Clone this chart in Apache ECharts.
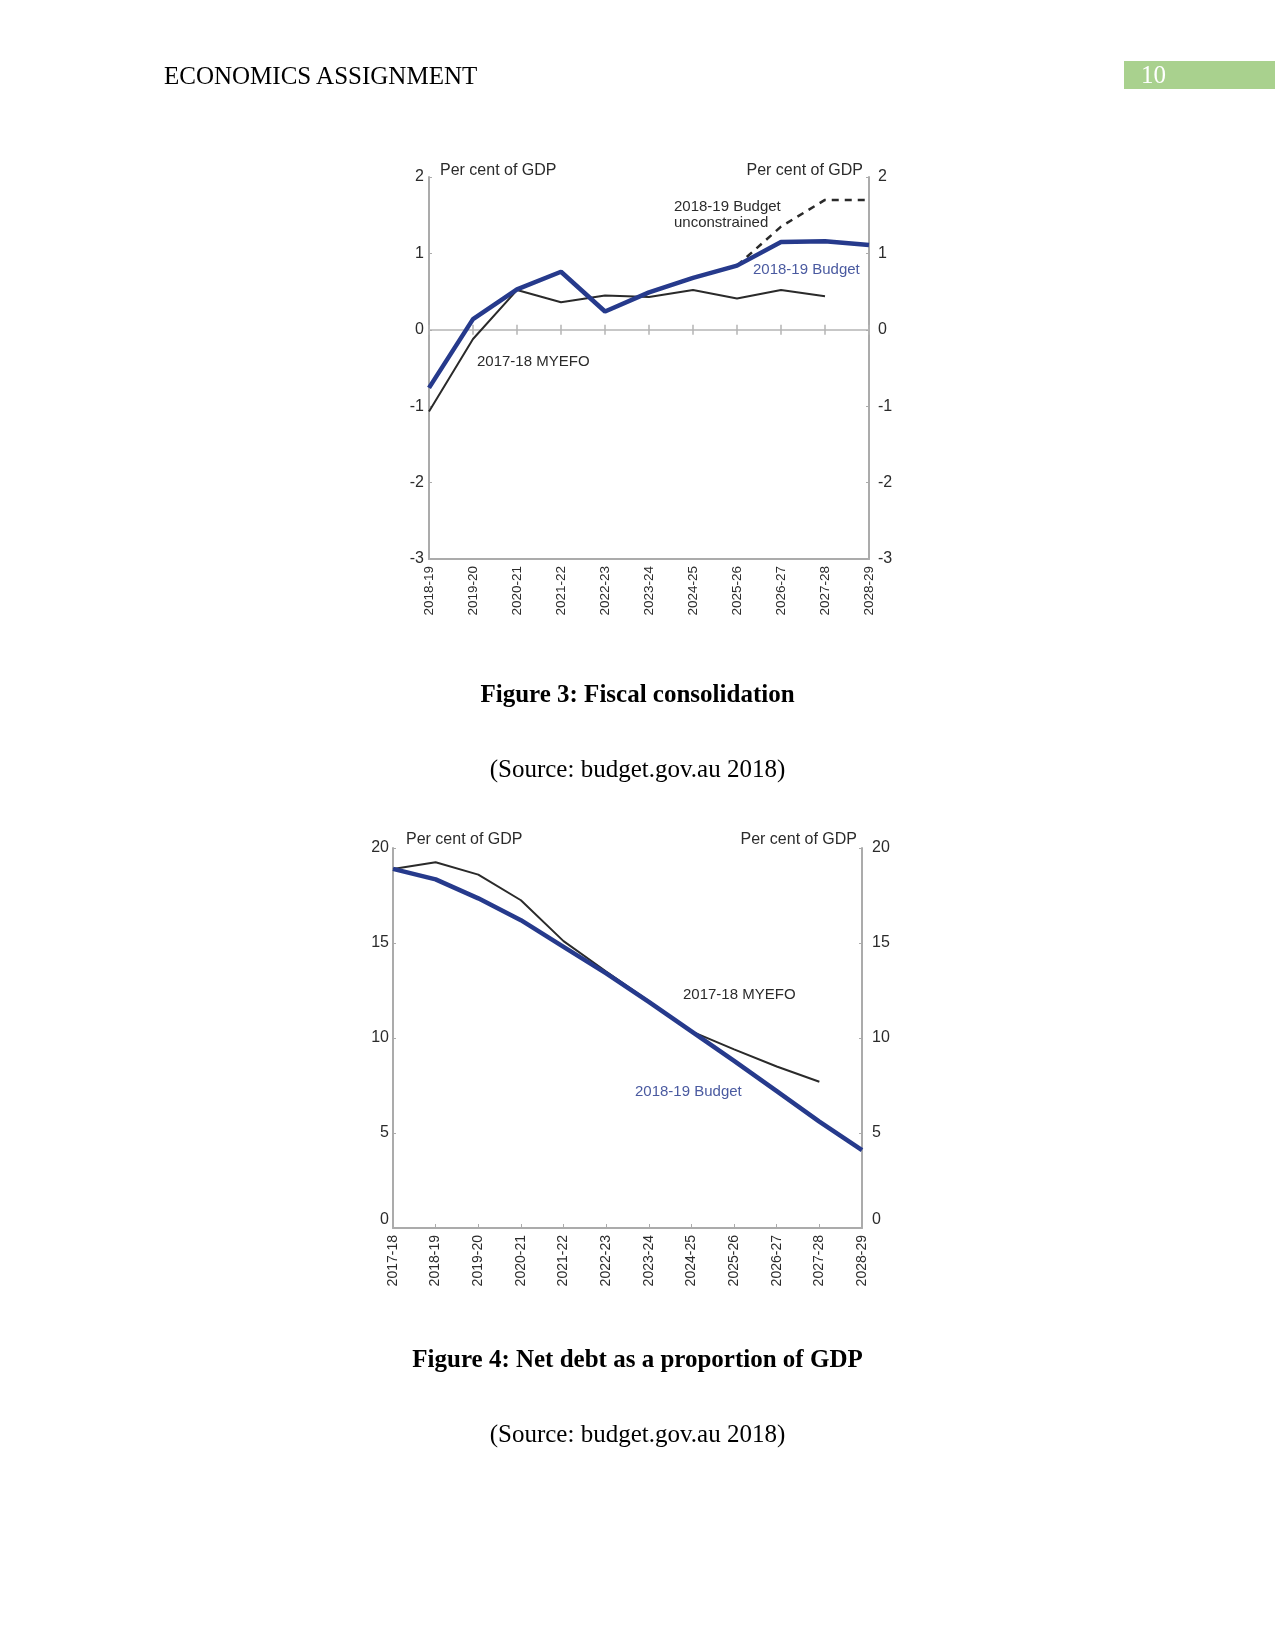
<!DOCTYPE html>
<html>
<head>
<meta charset="utf-8">
<script src="https://cdn.jsdelivr.net/npm/echarts@6/dist/echarts.min.js"></script>
<style>
  html, body { margin: 0; padding: 0; background: #fff; }
  #page { position: relative; width: 1275px; height: 1650px; overflow: hidden; }
  #chart { position: absolute; left: 0; top: 0; width: 1275px; height: 1650px; }
  .t { position: absolute; font-family: "Liberation Serif", "Times New Roman", serif; font-size: 25px; color: #000; white-space: nowrap; line-height: 30px; }
  .c { left: 0; width: 1275px; text-align: center; }
  .b { font-weight: bold; }
  #pgbox { position: absolute; left: 1124px; top: 61px; width: 151px; height: 28px; background: #a9d18e; }
  #pgnum { position: absolute; left: 1141px; top: 60px; color: #fff; }
</style>
</head>
<body>
<div id="page">
  <div id="chart"></div>
  <div class="t" style="left:164px; top:61px;">ECONOMICS ASSIGNMENT</div>
  <div id="pgbox"></div>
  <div class="t" id="pgnum">10</div>
  <div class="t c b" style="top:679px;">Figure 3: Fiscal consolidation</div>
  <div class="t c" style="top:754px;">(Source: budget.gov.au 2018)</div>
  <div class="t c b" style="top:1344px;">Figure 4: Net debt as a proportion of GDP</div>
  <div class="t c" style="top:1419px;">(Source: budget.gov.au 2018)</div>
</div>
<script>
// ---- Figure 3: Fiscal consolidation (per cent of GDP) ----
const years1 = ['2018-19','2019-20','2020-21','2021-22','2022-23','2023-24','2024-25','2025-26','2026-27','2027-28','2028-29'];
const budget1 = [-0.76, 0.14, 0.53, 0.76, 0.24, 0.49, 0.68, 0.84, 1.15, 1.16, 1.11];
const myefo1 = [-1.07, -0.12, 0.52, 0.36, 0.45, 0.43, 0.52, 0.41, 0.52, 0.44, null];
const unconstrained1 = [null, null, null, null, null, null, null, 0.84, 1.35, 1.70, 1.70];
const yMin1 = -3, yMax1 = 2, yStep1 = 1;

// ---- Figure 4: Net debt (per cent of GDP) ----
const years2 = ['2017-18','2018-19','2019-20','2020-21','2021-22','2022-23','2023-24','2024-25','2025-26','2026-27','2027-28','2028-29'];
const budget2 = [18.9, 18.35, 17.35, 16.2, 14.8, 13.4, 11.9, 10.35, 8.8, 7.2, 5.6, 4.1];
const myefo2 = [18.9, 19.25, 18.6, 17.25, 15.1, 13.5, 11.95, 10.35, 9.4, 8.5, 7.7, null];
const yMin2 = 0, yMax2 = 20, yStep2 = 5;

const unitLabel = 'Per cent of GDP';
const lblBudget = '2018-19 Budget';
const lblUnconstrained = '2018-19 Budget\nunconstrained';
const lblMyefo = '2017-18 MYEFO';

const SANS = '"Liberation Sans", Arial, sans-serif';
const AXIS_GREY = '#ababab';
const TXT = '#2b2b2b';
const BLUE = '#263a8c';
const BLUE_TXT = '#4a5aa0';

function yAx(grid, pos, min, max, step, show, extra) {
  return Object.assign({
    type: 'value', gridIndex: grid, position: pos, min: min, max: max, interval: step,
    show: show,
    axisLine: { show: true, lineStyle: { color: AXIS_GREY, width: 2 } },
    axisTick: { show: true, inside: true, length: 3, lineStyle: { color: AXIS_GREY } },
    axisLabel: { color: TXT, fontSize: 16, fontFamily: SANS, margin: pos === 'left' ? 5 : 9 },
    splitLine: { show: false }
  }, extra || {});
}

const chart = echarts.init(document.getElementById('chart'), null, { renderer: 'canvas' });
chart.setOption({
  animation: false,
  grid: [
    { left: 429, top: 177, width: 440, height: 382 },
    { left: 429, top: 177, width: 440, height: 382 },
    { left: 393, top: 848, width: 469, height: 380 }
  ],
  xAxis: [
    { type: 'category', gridIndex: 0, data: years1, boundaryGap: false, position: 'bottom',
      axisLine: { onZero: false, lineStyle: { color: AXIS_GREY, width: 2 } },
      axisTick: { show: false },
      axisLabel: { interval: 0, rotate: 90, fontSize: 13.5, color: TXT, fontFamily: SANS, margin: 7 } },
    { type: 'category', gridIndex: 0, data: years1, boundaryGap: false, position: 'top',
      axisLine: { onZero: true, lineStyle: { color: '#b5b5b5', width: 1.5 } },
      axisTick: { show: true, interval: 0, length: 5, lineStyle: { color: '#b5b5b5', width: 1.5 } },
      axisLabel: { show: false, interval: 0 } },
    { type: 'category', gridIndex: 1, data: years1, boundaryGap: false, position: 'bottom',
      axisLine: { onZero: true, show: false },
      axisTick: { show: true, interval: 0, length: 5, lineStyle: { color: '#b5b5b5', width: 1.5 } },
      axisLabel: { show: false, interval: 0 } },
    { type: 'category', gridIndex: 2, data: years2, boundaryGap: false, position: 'bottom',
      axisLine: { onZero: false, lineStyle: { color: AXIS_GREY, width: 2 } },
      axisTick: { show: true, interval: 0, inside: true, length: 4, lineStyle: { color: AXIS_GREY } },
      axisLabel: { interval: 0, rotate: 90, fontSize: 14, color: TXT, fontFamily: SANS, margin: 7 } }
  ],
  yAxis: [
    yAx(0, 'left', yMin1, yMax1, yStep1, true),
    yAx(0, 'right', yMin1, yMax1, yStep1, true),
    yAx(1, 'left', yMin1, yMax1, yStep1, false),
    yAx(2, 'left', yMin2, yMax2, yStep2, true, { axisLabel: { color: TXT, fontSize: 16, fontFamily: SANS, margin: 4, verticalAlignMinLabel: 'bottom' } }),
    yAx(2, 'right', yMin2, yMax2, yStep2, true, { axisLabel: { color: TXT, fontSize: 16, fontFamily: SANS, margin: 10, verticalAlignMinLabel: 'bottom' } })
  ],
  series: [
    { type: 'line', xAxisIndex: 0, yAxisIndex: 0, data: myefo1, showSymbol: false, symbol: 'none',
      lineStyle: { color: '#2a2a2a', width: 2 }, z: 3 },
    { type: 'line', xAxisIndex: 0, yAxisIndex: 0, data: unconstrained1, showSymbol: false, symbol: 'none',
      lineStyle: { color: '#2a2a2a', width: 2.5, type: [7, 6] }, z: 3 },
    { type: 'line', xAxisIndex: 0, yAxisIndex: 0, data: budget1, showSymbol: false, symbol: 'none',
      lineStyle: { color: BLUE, width: 4.5 }, z: 4 },
    { type: 'line', xAxisIndex: 3, yAxisIndex: 3, data: myefo2, showSymbol: false, symbol: 'none',
      lineStyle: { color: '#2a2a2a', width: 2 }, z: 3 },
    { type: 'line', xAxisIndex: 3, yAxisIndex: 3, data: budget2, showSymbol: false, symbol: 'none',
      lineStyle: { color: BLUE, width: 4.5 }, z: 4 }
  ],
  graphic: [
    { type: 'text', left: 440, top: 163, style: { text: unitLabel, fill: TXT, font: '16px ' + SANS } },
    { type: 'text', right: 1275 - 863, top: 163, style: { text: unitLabel, fill: TXT, font: '16px ' + SANS } },
    { type: 'text', left: 674, top: 199, style: { text: lblUnconstrained, fill: TXT, font: '15px ' + SANS, lineHeight: 16 } },
    { type: 'text', left: 753, top: 262, style: { text: lblBudget, fill: BLUE_TXT, font: '15px ' + SANS } },
    { type: 'text', left: 477, top: 354, style: { text: lblMyefo, fill: TXT, font: '15px ' + SANS } },
    { type: 'text', left: 406, top: 832, style: { text: unitLabel, fill: TXT, font: '16px ' + SANS } },
    { type: 'text', right: 1275 - 857, top: 832, style: { text: unitLabel, fill: TXT, font: '16px ' + SANS } },
    { type: 'text', left: 683, top: 987, style: { text: lblMyefo, fill: TXT, font: '15px ' + SANS } },
    { type: 'text', left: 635, top: 1084, style: { text: lblBudget, fill: BLUE_TXT, font: '15px ' + SANS } }
  ]
});
</script>
</body>
</html>
